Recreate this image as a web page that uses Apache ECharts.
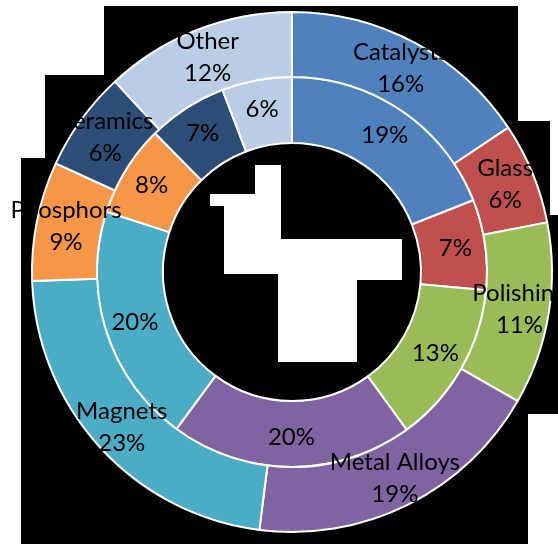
<!DOCTYPE html>
<html>
<head>
<meta charset="utf-8">
<script src="https://cdn.jsdelivr.net/npm/echarts@6/dist/echarts.min.js"></script>
<style>
  html, body { margin: 0; padding: 0; background: #000; }
  #chart { width: 558px; height: 544px; }
</style>
</head>
<body>
<div id="chart"></div>
<script>
// categories, clockwise from 12 o'clock
const categories = ['Catalysts', 'Glass', 'Polishing', 'Metal Alloys', 'Magnets', 'Phosphors', 'Ceramics', 'Other'];
// slice sizes
const outerValues = [15.6, 6.3, 11.3, 18.7, 22.4, 7.4, 6.2, 11.9];
const innerValues = [19.0, 7.5, 13.5, 20.1, 19.9, 7.6, 6.6, 5.8];
// percentages printed on the labels
const outerPct = [16, 6, 11, 19, 23, 9, 6, 12];
const innerPct = [19, 7, 13, 20, 20, 8, 7, 6];
const colors = ['#4F81BD', '#C0504D', '#9BBB59', '#8064A2', '#4BACC6', '#F79646', '#2C4D75', '#B9CDE5'];

// white patches of the (otherwise black) backdrop
const whiteRects = [
  [0, 0, 558, 6], [0, 0, 104, 75], [0, 0, 45, 158], [0, 0, 21, 544],
  [518, 0, 40, 121], [550, 0, 8, 215], [528, 414, 30, 130],
  [255, 165, 26, 74], [210, 194, 45, 12], [224, 194, 57, 80],
  [281, 239, 121, 41], [278, 239, 79, 123]
];

const labelFont = { fontFamily: 'Lato', fontSize: 24, lineHeight: 32, color: '#000' };

function ring (values, radius, fmt) {
  return {
    type: 'pie',
    center: [292, 272],
    radius: radius,
    startAngle: 90,
    clockwise: true,
    silent: true,
    animation: false,
    label: Object.assign({ show: true, position: 'inside', formatter: fmt }, labelFont),
    labelLine: { show: false },
    itemStyle: { borderColor: '#fff', borderWidth: 2 },
    data: values.map((v, i) => ({ name: categories[i], value: v, itemStyle: { color: colors[i] } }))
  }
}

let chart = echarts.init(document.getElementById('chart'));
chart.setOption({
  backgroundColor: '#000',
  animation: false,
  graphic: whiteRects.map(r => ({
    type: 'rect', z: -10, silent: true,
    shape: { x: r[0], y: r[1], width: r[2], height: r[3] },
    style: { fill: '#fff' }
  })),
  series: [
    ring(innerValues, [129, 195], p => innerPct[p.dataIndex] + '%'),
    ring(outerValues, [195, 260], p => p.name + '\n' + outerPct[p.dataIndex] + '%')
  ]
});
</script>
</body>
</html>
